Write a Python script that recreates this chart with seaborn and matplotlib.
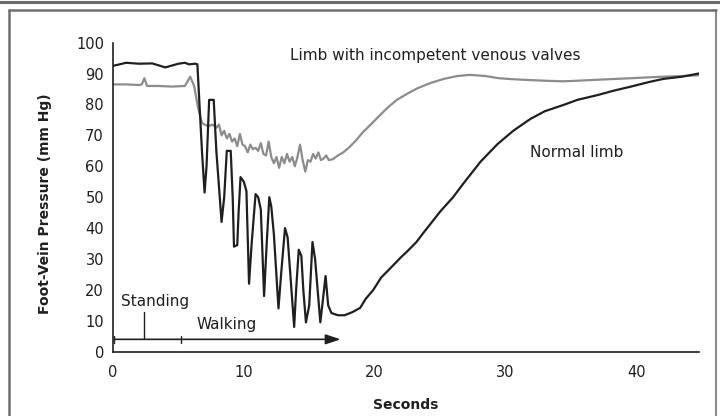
import numpy as np
import pandas as pd
import matplotlib
matplotlib.use("Agg")
import matplotlib.pyplot as plt
import seaborn as sns
from matplotlib.lines import Line2D

# ---------------- data ----------------
normal_t = [0, 0.5, 1, 2, 3, 4, 5, 5.5, 5.8, 6.3, 6.45,
            6.8, 7.0, 7.15, 7.35, 7.7, 7.9, 8.3, 8.5, 8.7, 9.0, 9.15, 9.25, 9.5,
            9.6, 9.75, 10.0, 10.2, 10.4, 10.6, 10.9, 11.1, 11.3, 11.55, 11.75,
            11.95, 12.1, 12.3, 12.65, 12.85, 13.15, 13.35, 13.85, 14.0, 14.2,
            14.4, 14.55, 14.75, 15.0, 15.25, 15.45, 15.85, 16.0, 16.25, 16.45,
            16.7, 17.2, 17.7, 18.3, 18.9, 19.3, 19.9, 20.5, 21.2, 22, 22.5,
            23.2, 23.7, 24.3, 25, 26, 26.8, 28.1, 29.4, 30.6, 31.9, 33, 34.4,
            35.5, 37, 38.3, 39.6, 41, 42.1, 43.5, 45]
normal_p = [92.5, 93, 93.5, 93.2, 93.3, 92, 93.2, 93.5, 93, 93.2, 93,
            65, 51.5, 60, 81.5, 81.5, 65, 42, 50, 65, 65, 50, 34, 34.5,
            45, 56.5, 55, 52, 22, 35, 51, 50, 46, 18, 35,
            50, 47, 38, 14, 25, 40, 37, 8, 20, 33,
            31, 20, 9.5, 15, 35.5, 30, 9.5, 15, 24.5, 15,
            12.5, 11.8, 11.8, 12.8, 14.2, 17, 20, 24, 27, 30.5, 32.5,
            35.5, 38.3, 41.5, 45.3, 50, 54.5, 61.5, 67.2, 71.5, 75.3, 77.8, 79.8,
            81.5, 83, 84.5, 85.8, 87.3, 88.3, 89, 90.2]

incomp_t = [0, 1, 2, 2.2, 2.4, 2.6, 3.5, 4.5, 5.5, 5.9, 6.2, 6.5, 6.8, 7.0,
            7.3, 7.6, 7.9, 8.1, 8.3, 8.5, 8.7, 8.9, 9.1, 9.3, 9.5, 9.7, 9.9,
            10.1, 10.3, 10.5, 10.7, 10.9, 11.1, 11.3, 11.5, 11.7, 11.9, 12.1,
            12.3, 12.5, 12.7, 12.9, 13.1, 13.3, 13.5, 13.7, 13.9, 14.1, 14.3,
            14.5, 14.7, 14.9, 15.1, 15.3, 15.5, 15.7, 15.9, 16.1, 16.3, 16.5,
            16.8, 17.2, 17.6, 18.1, 18.6, 19.1, 19.7, 20.4, 21.0, 21.7, 22.5,
            23.3, 24.3, 25.3, 26.3, 27.3, 28.5, 29.5, 30.5, 31.9, 33, 34.4,
            35.5, 37, 38.5, 39.6, 41, 42.1, 43.5, 45]
incomp_p = [86.5, 86.5, 86.3, 86.5, 88.5, 86, 86, 85.8, 86, 89, 86, 79, 74, 73.5,
            73, 73.5, 72.5, 73.5, 70, 71.5, 69, 70.5, 68, 69, 66.5, 70.5, 67,
            66.5, 64.5, 67, 65.5, 66, 65, 67.5, 64, 63.5, 68, 63,
            61, 63, 59.5, 63, 61, 64, 61.5, 63, 60, 63, 67,
            62, 58.3, 62, 61.5, 64, 62.5, 64.5, 62, 62.5, 63.5, 62,
            62.3, 63.5, 64.5, 66.3, 68.5, 71, 73.5, 76.5, 79, 81.5, 83.5,
            85.3, 87, 88.3, 89.2, 89.6, 89.2, 88.5, 88.2, 87.9, 87.7, 87.5,
            87.7, 88, 88.3, 88.5, 88.8, 89, 89.2, 89.5]

x_ticks = [0, 10, 20, 30, 40]
y_ticks = [0, 10, 20, 30, 40, 50, 60, 70, 80, 90, 100]

label_incomp = "Limb with incompetent venous valves"
label_normal = "Normal limb"
label_standing = "Standing"
label_walking = "Walking"

# ---------------- styling ----------------
sns.set_theme(style="white")
plt.rcParams["font.family"] = ["DejaVu Sans"]

DARK = "#1f1f1f"
GRAY = "#8c8c8c"

fig = plt.figure(figsize=(7.2, 4.16), dpi=100)
ax = fig.add_axes([113 / 720, 1 - 351.7 / 416, 586 / 720, 309 / 416])

df_n = pd.DataFrame({"t": normal_t, "p": normal_p})
df_i = pd.DataFrame({"t": incomp_t, "p": incomp_p})

sns.lineplot(data=df_i, x="t", y="p", ax=ax, color=GRAY, lw=1.6,
             estimator=None, sort=False)
sns.lineplot(data=df_n, x="t", y="p", ax=ax, color=DARK, lw=1.6,
             estimator=None, sort=False)

ax.set_xlim(0, 44.8)
ax.set_ylim(0, 100)
ax.set_xticks(x_ticks)
ax.set_yticks(y_ticks)
ax.set_xticklabels([str(v) for v in x_ticks])
ax.set_yticklabels([str(v) for v in y_ticks])

for s in ["top", "right"]:
    ax.spines[s].set_visible(False)
for s in ["left", "bottom"]:
    ax.spines[s].set_color(DARK)
    ax.spines[s].set_linewidth(1.2)

ax.tick_params(axis="both", which="major", direction="out", length=5,
               width=1.0, color=DARK, labelsize=10.5, labelcolor=DARK)
ax.tick_params(axis="y", pad=1.5)
ax.tick_params(axis="x", pad=4.5)

ax.set_xlabel("Seconds", fontsize=10, fontweight="bold", color=DARK)
ax.set_ylabel("Foot-Vein Pressure (mm Hg)", fontsize=10, fontweight="bold",
              color=DARK)
ax.xaxis.set_label_coords(0.5, -0.172)
ax.yaxis.set_label_coords(-0.116, 0.48)
ax.xaxis.label.set_va("center")
ax.yaxis.label.set_va("center")

# annotations
ax.text(13.5, 96, label_incomp, fontsize=11, color=DARK, ha="left", va="center")
ax.text(31.9, 64.6, label_normal, fontsize=11, color=DARK, ha="left", va="center")
ax.text(0.6, 16.1, label_standing, fontsize=11, color=DARK, ha="left", va="center")
ax.text(6.4, 8.7, label_walking, fontsize=11, color=DARK, ha="left", va="center")

# timeline
ax.annotate("", xy=(17.4, 4), xytext=(0.1, 4),
            arrowprops=dict(arrowstyle="-|>,head_length=0.6,head_width=0.2",
                            color=DARK, lw=1.2, mutation_scale=15,
                            shrinkA=0, shrinkB=0))
ax.plot([0.1, 0.1], [2.8, 5.2], color=DARK, lw=1.0)
ax.plot([5.2, 5.2], [2.8, 5.2], color=DARK, lw=1.0)
ax.plot([2.4, 2.4], [4, 12.9], color=DARK, lw=1.0)

# outer frame decoration
fig.add_artist(Line2D([0, 1], [1 - 2 / 416, 1 - 2 / 416], transform=fig.transFigure,
                      color="#6a6a6a", lw=2.2))
fig.add_artist(Line2D([9 / 720, 9 / 720], [0, 1 - 10 / 416], transform=fig.transFigure,
                      color="#6f6f6f", lw=1.8))
fig.add_artist(Line2D([716 / 720, 716 / 720], [0, 1 - 10 / 416], transform=fig.transFigure,
                      color="#8a8a8a", lw=1.5))
fig.add_artist(Line2D([9 / 720, 716 / 720], [1 - 10 / 416, 1 - 10 / 416],
                      transform=fig.transFigure, color="#6f6f6f", lw=1.8))

fig.savefig("out.png", dpi=100)
